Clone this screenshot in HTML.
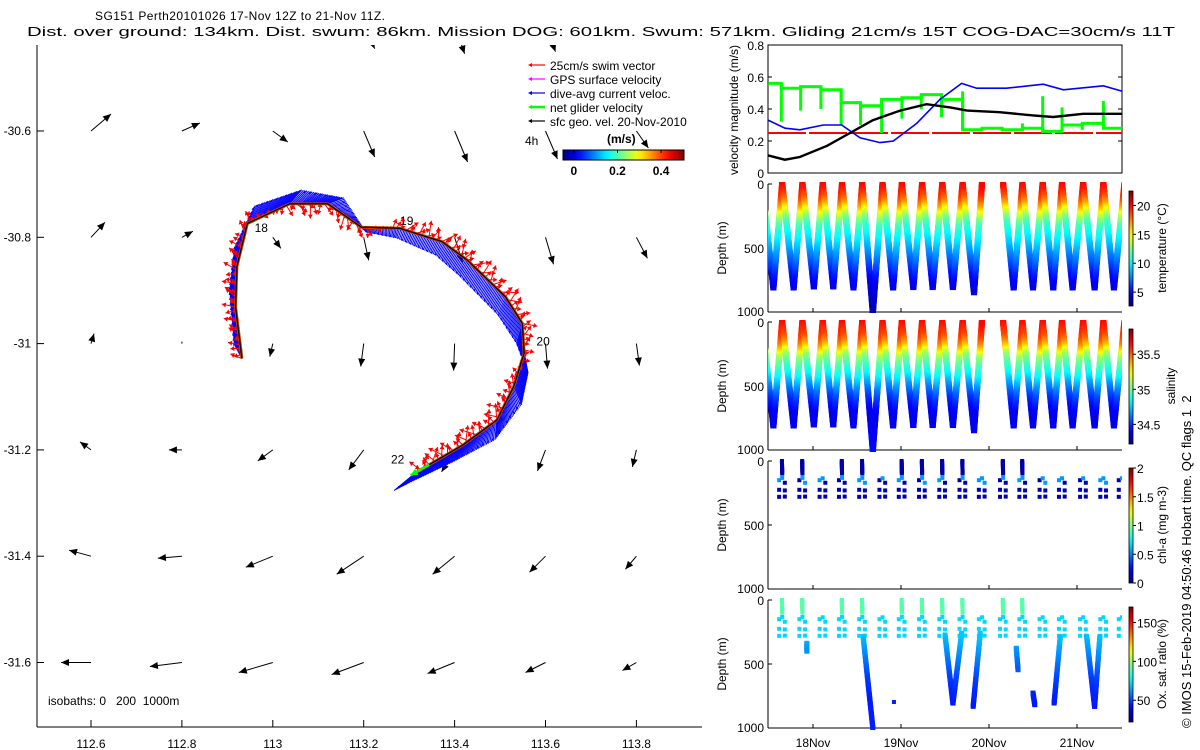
<!DOCTYPE html>
<html><head><meta charset="utf-8"><style>
html,body{margin:0;padding:0;background:#fff;}
svg{display:block;font-family:"Liberation Sans",sans-serif;}
text{fill:#000;white-space:pre;}
</style></head><body>
<svg id="fig" xmlns="http://www.w3.org/2000/svg" width="1200" height="750" viewBox="0 0 1200 750">
<defs>
<clipPath id="mapClip"><rect x="37" y="45" width="665" height="682"/></clipPath>
<clipPath id="velClip"><rect x="768" y="45" width="354" height="128"/></clipPath>
<clipPath id="tClip"><rect x="768" y="182" width="354" height="131"/></clipPath>
<clipPath id="sClip"><rect x="768" y="320" width="354" height="132"/></clipPath>
<clipPath id="cClip"><rect x="768" y="459" width="354" height="132"/></clipPath>
<clipPath id="oClip"><rect x="768" y="598" width="354" height="132"/></clipPath>
</defs>
<text x="95" y="20" font-size="12" textLength="290" lengthAdjust="spacing">SG151 Perth20101026 17-Nov 12Z to 21-Nov 11Z.</text>
<text x="27" y="36" font-size="13" textLength="1148" lengthAdjust="spacingAndGlyphs">Dist. over ground: 134km. Dist. swum: 86km. Mission DOG: 601km. Swum: 571km. Gliding 21cm/s 15T COG-DAC=30cm/s 11T</text>
<text transform="translate(1191,728) rotate(-90)" font-size="13">© IMOS 15-Feb-2019 04:50:46 Hobart time. QC flags 1  2</text>
</svg>
<script>
// ---------------- DATA ----------------
const velDays=[17.49,17.68,17.85,18.16,18.42,18.68,18.99,19.29,19.56,19.75,20.12,20.50,20.73,21.07,21.52];
const geoSpeed=[0.11,0.083,0.10,0.17,0.25,0.33,0.39,0.43,0.41,0.39,0.38,0.36,0.35,0.37,0.37];
const dacDays=[17.492,17.682,17.852,18.117,18.326,18.534,18.761,18.913,19.178,19.443,19.689,19.86,20.20,20.617,20.845,21.30,21.52];
const dacSpeed=[0.33,0.28,0.27,0.30,0.30,0.22,0.19,0.20,0.31,0.46,0.56,0.53,0.53,0.555,0.52,0.545,0.51];
const netEdges=[17.49,17.64,17.86,18.09,18.32,18.54,18.78,19.01,19.23,19.46,19.70,19.92,20.15,20.38,20.61,20.83,21.06,21.30,21.52];
const netSpeed=[0.56,0.53,0.54,0.52,0.44,0.42,0.46,0.47,0.49,0.46,0.27,0.28,0.27,0.28,0.26,0.30,0.31,0.28];
const netSpike=[0.56,0.32,0.39,0.40,0.30,0.30,0.25,0.34,0.40,0.35,0.51,0.28,0.26,0.31,0.48,0.41,0.27,0.45];
const swimSpeed=0.25;
const velTicks=[0,0.2,0.4,0.6,0.8];
const dateTicks=[18,19,20,21];
const dateLabels=["18Nov","19Nov","20Nov","21Nov"];
const depthTicks=[0,500,1000];
// dives
const diveStart=[17.42,17.65,17.88,18.11,18.33,18.56,18.79,19.01,19.24,19.47,19.70,20.16,20.38,20.61,20.83,21.07,21.30];
const diveBottom=[17.55,17.78,18.01,18.23,18.46,18.68,18.91,19.14,19.36,19.59,19.83,20.28,20.50,20.73,20.95,21.20,21.42];
const diveDepth=[808,808,800,800,808,1000,808,805,805,805,845,808,808,808,808,808,808];
const diveEnd=[17.65,17.88,18.11,18.33,18.56,18.79,19.01,19.24,19.47,19.70,19.92,20.38,20.61,20.83,21.07,21.30,21.54];
const profDepth=[0,50,100,150,200,250,300,400,500,600,700,800,1000];
const tempProf=[20,19.5,18.5,17,15,13,11.5,10,8.5,7,5.5,4.5,3.5];
const salProf=[35.65,35.6,35.55,35.45,35.3,35.1,35.0,34.85,34.65,34.5,34.4,34.4,34.45];
const oxProf=[95,93,90,78,72,70,68,62,56,50,46,44,45];
const tempTicks=[5,10,15,20], salTicks=[34.5,35,35.5], chlTicks=[0,0.5,1,1.5,2], oxTicks=[50,100,150];
// sparse chl / oxygen columns at surfacings
const surfDays=[17.65,17.88,18.11,18.33,18.56,18.79,19.01,19.24,19.47,19.70,19.92,20.16,20.38,20.61,20.83,21.07,21.30,21.51];
const surfDense=[1,1,0,1,1,0,1,1,1,1,0,1,1,0,0,0,0,0];
const colDescDepths=[150,225,280];
const colAscDepths=[170,230,278];
const chlSurface=0.08, chlMid=0.55, chlDeep=0.1;
const oxSurface=90, oxMid=72;
// deep oxygen segments [day1,depth1,day2,depth2]
const oxSegDay1=[18.57,19.50,19.59,19.82,20.31,20.50,20.74,21.11,21.20,17.93];
const oxSegDep1=[286,273,805,831,377,727,805,286,831,338];
const oxSegDay2=[18.68,19.59,19.69,19.90,20.33,20.52,20.81,21.20,21.26,17.93];
const oxSegDep2=[1000,805,260,260,545,818,286,831,286,400];
const oxLoneDay=[18.92], oxLoneDepth=[797];
// map: geostrophic grid
const gridLon=[112.6,112.8,113.0,113.2,113.4,113.6,113.8];
const gridLat=[-30.4,-30.6,-30.8,-31.0,-31.2,-31.4,-31.6];
const geoU=[
 [0,0,0,11,10,10,0],
 [20,18,15,11,13,12,12],
 [14,11,8,5,8,8,11],
 [3,0,-3,-3,-1,2,3],
 [-11,-13,-15,-15,-13,-8,-4],
 [-22,-24,-27,-27,-22,-16,-11],
 [-30,-32,-34,-32,-27,-20,-14]];
const geoV=[
 [0,0,0,-24,-29,-27,0],
 [17,8,-11,-26,-31,-28,-17],
 [15,6,-11,-23,-25,-27,-21],
 [10,2,-13,-23,-27,-25,-22],
 [8,0,-11,-20,-22,-21,-17],
 [6,-2,-11,-18,-18,-16,-13],
 [0,-4,-10,-12,-11,-10,-8]];
// glider track
const trackLon=[112.932,112.918,112.921,112.944,113.037,113.121,113.195,113.279,113.372,113.428,113.512,113.549,113.553,113.530,113.493,113.418,113.344,113.312];
const trackLat=[-31.028,-30.931,-30.855,-30.774,-30.737,-30.737,-30.781,-30.783,-30.808,-30.843,-30.912,-30.962,-31.018,-31.081,-31.144,-31.191,-31.228,-31.244];
const dacU=[-8,-6,-2,8,12,16,5,-3,-6,-8,-8,-6,4,8,-2,-12,-20,-22];
const dacV=[15,18,20,18,14,6,-5,-10,-14,-16,-18,-20,-20,-18,-20,-18,-18,-18];
const swimU=[-10,-12,-12,-5,5,5,0,8,10,12,14,12,10,-8,-10,-8,-5,-3];
const swimV=[4,3,6,12,-12,-12,-14,10,12,10,8,6,2,10,12,14,14,12];
const dayLabels=["18","19","20","22"];
const dayLabelLon=[112.96,113.28,113.58,113.26];
const dayLabelLat=[-30.790,-30.777,-31.004,-31.226];
const mapXTicks=[112.6,112.8,113,113.2,113.4,113.6,113.8];
const mapYTicks=[-30.6,-30.8,-31,-31.2,-31.4,-31.6];
const legendLabels=["25cm/s swim vector","GPS surface velocity","dive-avg current veloc.","net glider velocity","sfc geo. vel. 20-Nov-2010"];
const legendColors=["#f00","#f0f","#00f","#0f0","#000"];
const speedCbTicks=[0,0.2,0.4];

// ---------------- HELPERS ----------------
const svg=document.getElementById('fig');
const NS='http://www.w3.org/2000/svg';
function mk(tag,attrs,parent){const e=document.createElementNS(NS,tag);for(const k in attrs)e.setAttribute(k,attrs[k]);(parent||svg).appendChild(e);return e;}
function clamp(v){return Math.max(0,Math.min(1,v));}
function jet(t){t=clamp(t);const r=clamp(1.5-Math.abs(4*t-3)),g=clamp(1.5-Math.abs(4*t-2)),b=clamp(1.5-Math.abs(4*t-1));return `rgb(${Math.round(r*255)},${Math.round(g*255)},${Math.round(b*255)})`;}
function interp(xs,ys,x){if(x<=xs[0])return ys[0];for(let i=1;i<xs.length;i++){if(x<=xs[i]){const f=(x-xs[i-1])/(xs[i]-xs[i-1]);return ys[i-1]+f*(ys[i]-ys[i-1]);}}return ys[ys.length-1];}
const DX=d=>813+(d-18)*88;
const VY=v=>173-v*160;
const MX=lon=>91+(lon-112.6)*454.5;
const MY=lat=>131+(-30.6-lat)*531.5;
function txt(x,y,s,size,anchor,parent){const t=mk('text',{x:x,y:y,'font-size':size||12,'text-anchor':anchor||'start'},parent);t.textContent=s;return t;}
function arrowHead(g,x1,y1,x2,y2,len,wid,color){const a=Math.atan2(y2-y1,x2-x1);const bx=x2-len*Math.cos(a),by=y2-len*Math.sin(a);const px=-Math.sin(a)*wid,py=Math.cos(a)*wid;return mk('polygon',{points:`${x2},${y2} ${bx+px},${by+py} ${bx-px},${by-py}`,fill:color},g);}

// ---------------- MAP ----------------
const mapG=mk('g',{});


let e;
e=mk('line',{x1:37,y1:45,x2:37,y2:727,stroke:'#000','stroke-width':1},mapG);


e=mk('line',{x1:37,y1:727,x2:702,y2:727,stroke:'#000','stroke-width':1},mapG);


mapXTicks.forEach(v=>{const x=MX(v);
 const tk=mk('line',{x1:x,y1:727,x2:x,y2:720,stroke:'#000'},mapG);
 
 
 const t=txt(x,748,String(v),12,'middle',mapG);
 
 });
mapYTicks.forEach(v=>{const y=MY(v);
 const tk=mk('line',{x1:37,y1:y,x2:44,y2:y,stroke:'#000'},mapG);
 
 
 const t=txt(31,y+4,String(v),12,'end',mapG);
 
 });
const mapInner=mk('g',{'clip-path':'url(#mapClip)'},mapG);
gridLat.forEach((lat,r)=>gridLon.forEach((lon,c)=>{const u=geoU[r][c],v=geoV[r][c];if(u===0&&v===0&&r===0)return;
 const x1=MX(lon),y1=MY(lat),x2=x1+u,y2=y1-v;
 const g=mk('g',{},mapInner);
 
 
 mk('line',{x1:x1,y1:y1,x2:x2,y2:y2,stroke:'#000','stroke-width':1},g);
 if(Math.hypot(u,v)>3)arrowHead(g,x1,y1,x2,y2,8,3.5,'#000');}));
const tp=trackLon.map((l,i)=>[MX(l),MY(trackLat[i])]);
function sampleTrack(step){const out=[];for(let i=0;i<tp.length-1;i++){const[a,b]=[tp[i],tp[i+1]];const L=Math.hypot(b[0]-a[0],b[1]-a[1]);const n=Math.max(1,Math.round(L/step));for(let k=0;k<n;k++){const f=k/n;out.push({x:a[0]+f*(b[0]-a[0]),y:a[1]+f*(b[1]-a[1]),i:i,f:f});}}return out;}
const dacG=mk('g',{},mapInner);


sampleTrack(1.6).forEach((p,k)=>{const u=dacU[p.i]+p.f*(dacU[p.i+1]-dacU[p.i]);const v=dacV[p.i]+p.f*(dacV[p.i+1]-dacV[p.i]);
 mk('line',{x1:p.x,y1:p.y,x2:p.x+u,y2:p.y-v,stroke:'#00f','stroke-width':1},dacG);
 if(k%3===0)mk('line',{x1:p.x+u*0.85-1.5,y1:p.y-v*0.85,x2:p.x+u,y2:p.y-v,stroke:'#00f','stroke-width':1},dacG);});
const swimG=mk('g',{},mapInner);


sampleTrack(3.5).forEach((p,k)=>{let u=swimU[p.i]+p.f*(swimU[p.i+1]-swimU[p.i]);let v=swimV[p.i]+p.f*(swimV[p.i+1]-swimV[p.i]);
 const ang=0.7*Math.sin(k*2.3),s=0.8+0.35*Math.cos(k*1.7);const uu=(u*Math.cos(ang)-v*Math.sin(ang))*s,vv=(u*Math.sin(ang)+v*Math.cos(ang))*s;
 mk('line',{x1:p.x,y1:p.y,x2:p.x+uu,y2:p.y-vv,stroke:'#f00','stroke-width':1},swimG);
 arrowHead(swimG,p.x,p.y,p.x+uu,p.y-vv,4,2.5,'#f00');});
e=mk('polyline',{points:tp.map(p=>p.join(',')).join(' '),fill:'none',stroke:'#c04000','stroke-width':3},mapInner);


e=mk('polyline',{points:tp.map(p=>p.join(',')).join(' '),fill:'none',stroke:'#000','stroke-width':1.2},mapInner);


{const a=tp[tp.length-2],b=tp[tp.length-1];const g=mk('g',{},mapInner);
 
 
 mk('line',{x1:a[0],y1:a[1],x2:b[0]-4,y2:b[1]+2,stroke:'#0f0','stroke-width':2.5},g);
 arrowHead(g,a[0],a[1],b[0]-4,b[1]+2,7,3.5,'#0f0');}
dayLabels.forEach((s,i)=>{const t=txt(MX(dayLabelLon[i]),MY(dayLabelLat[i]),s,12,'start',mapInner);
 
 });
e=txt(48,705,'isobaths: 0   200  1000m',12,'start',mapG);


const legG=mk('g',{},mapG);


legendLabels.forEach((s,i)=>{const y=65+i*14;const g=mk('g',{},legG);
 
 
 mk('line',{x1:530,y1:y,x2:545,y2:y,stroke:legendColors[i],'stroke-width':i===3?2.5:1.2},g);
 arrowHead(g,545,y,528,y,4,2,legendColors[i]);
 txt(550,y+5,s,12,'start',g);});
e=txt(525,145,'4h',12,'start',legG);


e=txt(607,143,'(m/s)',12,'start',legG);e.setAttribute('font-weight','bold');


{const gr=mk('linearGradient',{id:'jetH',x1:0,y1:0,x2:1,y2:0},svg.querySelector('defs'));for(let i=0;i<=20;i++)mk('stop',{offset:i/20,'stop-color':jet(i/20)},gr);
 const cb=mk('rect',{x:563,y:150,width:121,height:10,fill:'url(#jetH)',stroke:'#000','stroke-width':1},legG);
 
 
 speedCbTicks.forEach(v=>{const x=563+(v+0.05)/0.555*121;mk('line',{x1:x,y1:150,x2:x,y2:153,stroke:'#000'},legG);
  const t=txt(x,175,String(v),12,'middle',legG);t.setAttribute('font-weight','bold');
  
  });}
// ---------------- VELOCITY PANEL ----------------
const velG=mk('g',{});


e=mk('rect',{x:768,y:45,width:354,height:128,fill:'none',stroke:'#000'},velG);


velTicks.forEach(v=>{const y=VY(v);mk('line',{x1:768,y1:y,x2:772,y2:y,stroke:'#000'},velG);mk('line',{x1:1122,y1:y,x2:1118,y2:y,stroke:'#000'},velG);
 const t=txt(764,y+5,v===0?'0':v.toFixed(1),12,'end',velG);
 
 });
e=txt(0,0,'velocity magnitude (m/s)',12,'middle',velG);e.setAttribute('transform','translate(738,110) rotate(-90)');


const velIn=mk('g',{'clip-path':'url(#velClip)'},velG);
e=mk('line',{x1:768,y1:VY(swimSpeed),x2:1122,y2:VY(swimSpeed),stroke:'#f00','stroke-width':2,'stroke-dasharray':'38 3'},velIn);


{let pts=[];netSpeed.forEach((v,i)=>{pts.push(`${DX(netEdges[i])},${VY(v)}`);pts.push(`${DX(netEdges[i+1])},${VY(v)}`);});
 const pl=mk('polyline',{points:pts.join(' '),fill:'none',stroke:'#0f0','stroke-width':3},velIn);
 
 
 netSpike.forEach((s,i)=>{if(i===0)return;const x=DX(netEdges[i]);const vals=[netSpeed[i-1],netSpeed[i],s];
  const sp=mk('line',{x1:x,y1:VY(Math.min(...vals)),x2:x,y2:VY(Math.max(...vals)),stroke:'#0f0','stroke-width':3},velIn);
  
  });}
e=mk('polyline',{points:dacDays.map((d,i)=>`${DX(d)},${VY(dacSpeed[i])}`).join(' '),fill:'none',stroke:'#00f','stroke-width':1.6},velIn);


e=mk('polyline',{points:velDays.map((d,i)=>`${DX(d)},${VY(geoSpeed[i])}`).join(' '),fill:'none',stroke:'#000','stroke-width':2.4},velIn);



// ---------------- DEPTH PANELS ----------------
function depthPanel(name,top,clip,cbLabel,cbTicks,cbMin,cbMax,cbFmt){
 const g=mk('g',{});
 
 
 const DY=d=>top+d*0.128;
 mk('line',{x1:768,y1:top,x2:768,y2:top+128,stroke:'#000'},g);
 mk('line',{x1:768,y1:top+128,x2:1122,y2:top+128,stroke:'#000'},g);
 depthTicks.forEach(d=>{const y=DY(d);mk('line',{x1:768,y1:y,x2:772,y2:y,stroke:'#000'},g);
  const t=txt(764,y+(d===1000?4:5),String(d),12,'end',g);
  
  });
 dateTicks.forEach(d=>{const x=DX(d);mk('line',{x1:x,y1:top+128,x2:x,y2:top+124,stroke:'#000'},g);});
 const yl=txt(0,0,'Depth (m)',12,'middle',g);yl.setAttribute('transform',`translate(726,${top+64}) rotate(-90)`);
 
 
 const cbTop=top+7,cbH=115;
 const cb=mk('rect',{x:1129,y:cbTop,width:4,height:cbH,fill:'url(#jetV)',stroke:'#000','stroke-width':0.8},g);
 
 
 cbTicks.forEach(v=>{const y=cbTop+cbH-(v-cbMin)/(cbMax-cbMin)*cbH;mk('line',{x1:1133,y1:y,x2:1136,y2:y,stroke:'#000'},g);
  const t=txt(1137,y+5,cbFmt(v),12,'start',g);
  
  });
 const cl=txt(0,0,cbLabel,12,'middle',g);cl.setAttribute('transform',`translate(${cbLabel==='salinity'?1175:1166},${top+64}) rotate(-90)`);
 
 
 const inner=mk('g',{'clip-path':`url(#${clip})`},g);
 return {g,inner,DY};
}
{const gr=mk('linearGradient',{id:'jetV',x1:0,y1:1,x2:0,y2:0},svg.querySelector('defs'));for(let i=0;i<=20;i++)mk('stop',{offset:i/20,'stop-color':jet(i/20)},gr);}
function pt(parent,x,y,c,s){return mk('rect',{x:x-s/2,y:y-s/2,width:s,height:s,fill:c},parent);}
function drawDives(P,prof,vmin,vmax){
 diveStart.forEach((s,i)=>{const dg=mk('g',{},P.inner);
  
  
  const legs=[[s,0,diveBottom[i],diveDepth[i]],[diveBottom[i],diveDepth[i],diveEnd[i],0]];
  legs.forEach(L=>{const n=Math.round(Math.abs(L[3]-L[1])/9);for(let k=0;k<=n;k++){const f=k/n;const d=L[1]+f*(L[3]-L[1]);const day=L[0]+f*(L[2]-L[0]);
   pt(dg,DX(day),P.DY(d),jet((interp(profDepth,prof,d)-vmin)/(vmax-vmin)),6);}});});
}
const TP=depthPanel('temperature-panel',184,'tClip','temperature (°C)',tempTicks,2.6,22.5,v=>String(v));
drawDives(TP,tempProf,2.6,22.5);
const SP=depthPanel('salinity-panel',322,'sClip','salinity',salTicks,34.22,35.86,v=>String(v));
drawDives(SP,salProf,34.22,35.86);
function drawColumns(P,valSurf,valMid,valDeep,vmin,vmax){
 surfDays.forEach((s,i)=>{const cg=mk('g',{},P.inner);
  
  
  const col=v=>jet((v-vmin)/(vmax-vmin));
  colDescDepths.forEach((d,k)=>pt(cg,DX(s-0.035),P.DY(d),col(k===0&&i%2===0?valMid:valDeep),4));
  colAscDepths.forEach((d,k)=>pt(cg,DX(s+0.03),P.DY(d),col(k===0&&i%3===1?valMid:valDeep),4));
  if(surfDense[i]){for(let d=0;d<=100;d+=7)pt(cg,DX(s-0.003+d*0.00003),P.DY(d),col(valSurf),4);pt(cg,DX(s),P.DY(132),col(valMid),4);}
  else pt(cg,DX(s),P.DY(135),col(valMid),4);});
}
const CP=depthPanel('chlorophyll-panel',461,'cClip','chl-a (mg m-3)',chlTicks,0,2,v=>String(v));
drawColumns(CP,chlSurface,chlMid,chlDeep,0,2);
const OP=depthPanel('oxygen-panel',600,'oClip','Ox. sat. ratio (%)',oxTicks,22,170,v=>String(v));
drawColumns(OP,oxSurface,oxMid,oxMid,22,170);
oxSegDay1.forEach((d1,i)=>{const sg=mk('g',{},OP.inner);
 
 
 const n=Math.max(2,Math.round(Math.abs(oxSegDep2[i]-oxSegDep1[i])/9));
 for(let k=0;k<=n;k++){const f=k/n;const d=oxSegDep1[i]+f*(oxSegDep2[i]-oxSegDep1[i]);const day=d1+f*(oxSegDay2[i]-d1);
  pt(sg,DX(day),OP.DY(d),jet((interp(profDepth,oxProf,d)-22)/148),5);}});
oxLoneDay.forEach((d,i)=>{const p=pt(OP.inner,DX(d),OP.DY(oxLoneDepth[i]),jet((45-22)/148),4);
 
 });
dateTicks.forEach((d,i)=>{const t=txt(DX(d),747,dateLabels[i],12,'middle');
 
 });
</script>
</body></html>
